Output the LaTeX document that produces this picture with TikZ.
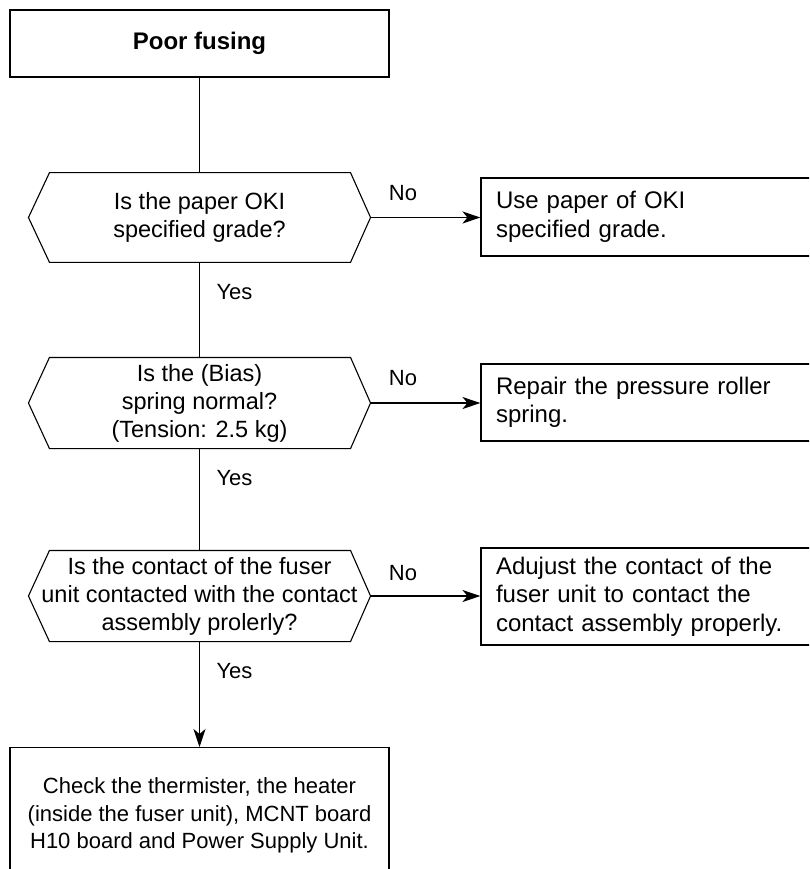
\documentclass[tikz,border=0pt]{standalone}
\usepackage{fontspec}
\setmainfont{Liberation Sans}
\usetikzlibrary{arrows.meta}
\begin{document}
\begin{tikzpicture}[x=1pt,y=-1pt,line width=1.1pt,
  box/.style={draw,inner sep=0pt,minimum width=379pt},
  dec/.style={inner sep=0pt,minimum width=341pt,align=center,font=\fontsize{23.5}{28}\selectfont},
  act/.style={draw,inner ysep=0pt,inner xsep=15pt,text width=304pt,align=left,font=\fontsize{24}{28.5}\selectfont},
  lbl/.style={inner sep=0pt,font=\fontsize{22}{26}\selectfont},
  arr/.style={-{Stealth[length=18pt,width=12pt,inset=5pt]}},
  hex/.style={draw,line join=miter}]
\useasboundingbox (0,0) rectangle (809,869);
\clip (0,0) rectangle (809,869);

\node[box,minimum height=67pt,font=\fontsize{24}{28}\selectfont\bfseries] (start) at (199.5,43.5) {Poor fusing};

\node[dec,minimum height=88.5pt] (d1) at (199.5,217.5) {Is the paper OKI\\specified grade?};
\node[dec,minimum height=90pt] (d2) at (199.5,403) {Is the (Bias)\\spring normal?\\(Tension: 2.5 kg)};
\node[dec,minimum height=90pt] (d3) at (199.5,596) {Is the contact of the fuser\\unit contacted with the contact\\assembly prolerly?};

\foreach \d in {d1,d2,d3}{
  \draw[hex] (\d.west) -- ([xshift=21pt]\d.north west) -- ([xshift=-20pt]\d.north east) -- (\d.east) -- ([xshift=-20pt]\d.south east) -- ([xshift=21pt]\d.south west) -- cycle;
}

\node[act,minimum height=78pt] (r1) at (648,217) {Use paper of OKI\\specified grade.};
\node[act,minimum height=77pt] (r2) at (648,402.5) {Repair the pressure roller\\spring.};
\node[act,minimum height=97pt] (r3) at (648,596.5) {Adujust the contact of the\\fuser unit to contact the\\contact assembly properly.};

\node[box,anchor=north,minimum height=136pt,align=center,font=\fontsize{22}{27.5}\selectfont] (fin) at (199.5,747) {Check the thermister, the heater\\(inside the fuser unit), MCNT board\\H10 board and Power Supply Unit.};

\draw (start.south) -- (d1.north);
\draw (d1.south) -- (d2.north);
\draw (d2.south) -- (d3.north);
\draw[arr] (d3.south) -- (fin.north);

\draw[arr] (d1.east) -- (d1.east -| r1.west);
\draw[arr] (d2.east) -- (d2.east -| r2.west);
\draw[arr] (d3.east) -- (d3.east -| r3.west);

\node[lbl] (n1) at (403,193) {No};
\node[lbl] (n2) at (403,378) {No};
\node[lbl] (n3) at (403,573) {No};
\node[lbl,anchor=west] (y1) at (216,292) {Yes};
\node[lbl,anchor=west] (y2) at (216,478) {Yes};
\node[lbl,anchor=west] (y3) at (216,671) {Yes};
\end{tikzpicture}
\end{document}
